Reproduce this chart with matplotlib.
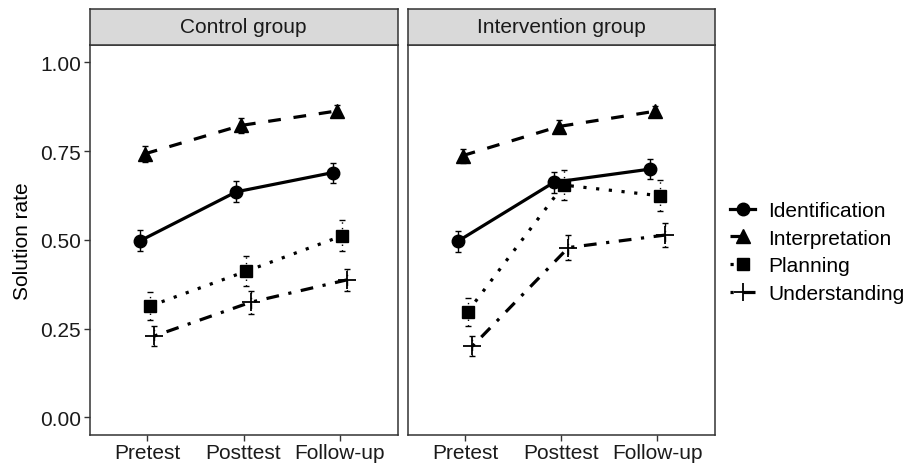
import matplotlib
matplotlib.use("Agg")
import matplotlib.pyplot as plt
from matplotlib.lines import Line2D
import numpy as np

plt.rcParams['font.family'] = ['Liberation Sans', 'DejaVu Sans']

times = ["Pretest", "Posttest", "Follow-up"]
groups = ["Control group", "Intervention group"]
series = ["Identification", "Interpretation", "Planning", "Understanding"]

# solution rates per group
control = {
    "Identification": [0.497, 0.635, 0.689],
    "Interpretation": [0.742, 0.822, 0.863],
    "Planning":       [0.313, 0.411, 0.511],
    "Understanding":  [0.229, 0.324, 0.387],
}
intervention = {
    "Identification": [0.496, 0.662, 0.699],
    "Interpretation": [0.737, 0.819, 0.862],
    "Planning":       [0.297, 0.654, 0.624],
    "Understanding":  [0.200, 0.478, 0.513],
}
# standard errors
control_err = {
    "Identification": [0.030, 0.030, 0.028],
    "Interpretation": [0.022, 0.020, 0.016],
    "Planning":       [0.040, 0.042, 0.044],
    "Understanding":  [0.027, 0.032, 0.032],
}
intervention_err = {
    "Identification": [0.030, 0.030, 0.028],
    "Interpretation": [0.020, 0.018, 0.016],
    "Planning":       [0.040, 0.042, 0.044],
    "Understanding":  [0.028, 0.035, 0.034],
}

styles = {
    "Identification": dict(ls='-', marker='o', ms=9),
    "Interpretation": dict(ls=(0, (4, 4)), marker='^', ms=10.5),
    "Planning":       dict(ls=(0, (1, 3)), marker='s', ms=8.5),
    "Understanding":  dict(ls=(0, (1, 3, 4, 3)), marker='+', ms=13),
}
offsets = [-0.075, -0.025, 0.025, 0.075]
LW = 2.3

fig = plt.figure(figsize=(9.07, 4.64), dpi=100)
W, H = 907, 464
panels_x = [(89.5, 397.5), (407.5, 715)]
ptop, pbot = 45.5, 436
strip_top = 10

data_sets = [(control, control_err), (intervention, intervention_err)]
x = np.arange(len(times))
edge = '#333333'

for gi, (x0, x1) in enumerate(panels_x):
    ax = fig.add_axes([x0 / W, 1 - pbot / H, (x1 - x0) / W, (pbot - ptop) / H])
    vals, errs = data_sets[gi]
    for si, s in enumerate(series):
        st = styles[s]
        xs = x + offsets[si]
        ax.plot(xs, vals[s], color='black', lw=LW, ls=st['ls'], marker=st['marker'],
                ms=st['ms'], mew=1.3 if st['marker'] == '+' else 1, zorder=3)
        eb = ax.errorbar(xs, vals[s], yerr=errs[s], fmt='none', ecolor='black',
                         elinewidth=1.0, capsize=2, capthick=1.0, zorder=2)
        for lc in eb[2]:
            lc.set_linestyle(st['ls'])
    ax.set_xlim(-0.6, 2.6)
    ax.set_ylim(-0.05, 1.05)
    ax.set_xticks(x)
    ax.set_xticklabels(times, fontsize=15)
    ax.set_yticks([0, 0.25, 0.5, 0.75, 1.0])
    ax.tick_params(axis='both', direction='out', length=4, width=1, color=edge,
                   pad=2, labelcolor='#1a1a1a')
    if gi == 0:
        ax.set_yticklabels(["0.00", "0.25", "0.50", "0.75", "1.00"], fontsize=15)
        ax.set_ylabel("Solution rate", fontsize=15, labelpad=6)
    else:
        ax.set_yticklabels([])
        ax.tick_params(axis='y', length=0)
    for sp in ax.spines.values():
        sp.set_color(edge)
        sp.set_linewidth(1.1)
    # strip
    sax = fig.add_axes([x0 / W, 1 - ptop / H, (x1 - x0) / W, (ptop - strip_top) / H])
    sax.set_facecolor('#D9D9D9')
    sax.set_xticks([]); sax.set_yticks([])
    for sp in sax.spines.values():
        sp.set_color(edge)
        sp.set_linewidth(1.1)
    sax.text(0.5, 0.5, groups[gi], transform=sax.transAxes, ha='center', va='center',
             fontsize=15, color='#1a1a1a')

handles = [Line2D([0], [0], color='black', lw=LW, ls=styles[s]['ls'],
                  marker=styles[s]['marker'], ms=styles[s]['ms'],
                  mew=1.3 if styles[s]['marker'] == '+' else 1) for s in series]
fig.legend(handles, series, loc='center left', bbox_to_anchor=(720 / W, 1 - 253 / H),
           frameon=False, fontsize=15, handlelength=1.2, handletextpad=0.6,
           labelspacing=0.42, borderpad=0)

fig.savefig("out.png", dpi=100)
